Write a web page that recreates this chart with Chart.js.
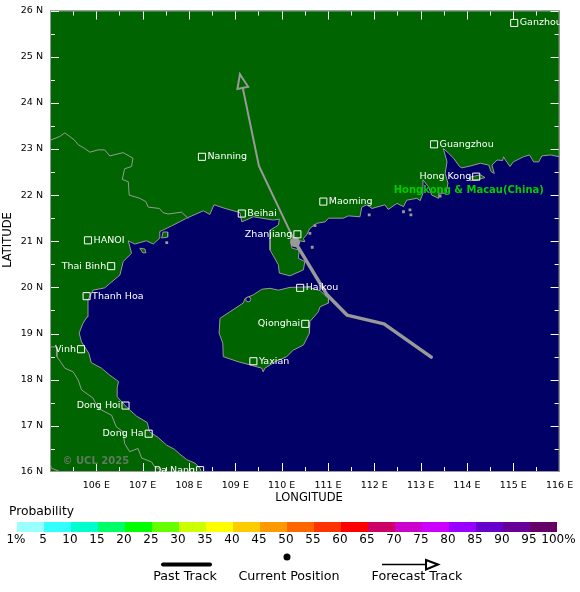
<!DOCTYPE html>
<html>
<head>
<meta charset="utf-8">
<style>html,body{margin:0;padding:0;background:#fff}canvas{display:block}</style>
<script src="https://cdn.jsdelivr.net/npm/chart.js@4"></script>
</head>
<body>
<canvas id="c" width="580" height="592"></canvas>
<script>
// ---------- data (degrees) ----------
const coastLon=[108.27,108.24,108.13,107.95,107.80,107.69,107.52,107.33,107.15,107.10,106.87,106.66,106.45,106.45,106.48,106.29,106.11,105.89,105.84,105.68,105.63,105.71,105.80,105.82,105.82,105.93,106.18,106.51,106.58,106.76,106.69,106.83,107.08,107.23,107.36,107.37,107.62,107.95,108.31,108.45,108.54,108.78,109.10,109.14,109.39,109.82,109.95,109.93,109.75,109.75,109.93,109.95,110.18,110.47,110.50,110.36,110.38,110.22,110.20,110.50,110.47,110.54,110.61,110.76,110.94,111.01,111.33,111.44,111.69,111.73,111.84,111.95,112.23,112.30,112.49,112.63,112.70,112.92,112.99,113.05,113.05,113.17,113.24,113.39,113.39,113.55,113.59,113.53,113.57,113.49,113.60,113.71,113.84,113.89,114.07,114.29,114.47,114.52,114.59,114.54,114.65,114.77,114.79,114.83,114.93,115.00,115.22,115.35,115.44,115.55,115.62,115.80,116.00,116.00];
const coastLat=[15.99,16.08,16.19,16.27,16.39,16.49,16.58,16.75,16.87,17.07,17.21,17.40,17.63,17.83,17.96,18.10,18.25,18.37,18.57,18.82,19.01,19.22,19.36,19.58,19.73,19.94,19.99,20.27,20.56,20.74,21.01,20.94,21.01,20.94,21.06,21.21,21.33,21.50,21.66,21.58,21.79,21.71,21.62,21.42,21.53,21.46,21.48,21.35,21.24,20.81,20.49,20.31,20.25,20.38,20.56,20.63,20.81,20.85,21.04,20.99,21.06,21.14,21.28,21.39,21.42,21.50,21.50,21.55,21.53,21.74,21.79,21.71,21.79,21.69,21.82,21.75,21.89,21.93,21.88,22.04,22.33,22.18,22.00,21.93,22.04,22.04,22.26,22.47,22.72,23.01,22.91,22.80,22.62,22.59,22.63,22.69,22.65,22.51,22.47,22.65,22.76,22.75,22.83,22.76,22.62,22.72,22.83,22.87,22.72,22.72,22.85,22.87,22.83,15.99];
const hainanLon=[109.57,109.75,109.93,110.18,110.54,110.83,111.01,111.01,110.83,110.79,110.61,110.60,110.47,110.25,110.11,109.86,109.64,109.60,109.57,109.32,109.06,108.74,108.73,108.65,108.67,108.88,109.17,109.21,109.39,109.57];
const hainanLat=[19.96,19.98,19.94,20.00,20.01,19.93,19.76,19.66,19.58,19.47,19.26,19.01,18.75,18.64,18.50,18.39,18.25,18.17,18.25,18.32,18.39,18.50,18.79,19.01,19.33,19.47,19.66,19.76,19.84,19.96];
const catBaLon=[107.44,107.54,107.54,107.41,107.44];
const catBaLat=[21.20,21.20,21.09,21.07,21.20];
const isleLon=[106.94,107.05,107.07,107.00,106.94];
const isleLat=[20.85,20.83,20.75,20.75,20.85];
const hkLon=[114.07,114.29,114.39,114.25,114.07,114.07];
const hkLat=[22.39,22.44,22.38,22.34,22.31,22.39];
const isletLon=[111.89,112.63,112.77,112.79,110.72,110.61,110.66,113.42,107.52];
const isletLat=[21.57,21.64,21.68,21.57,21.34,21.17,20.87,21.98,20.97];
const lakeLon=[109.28];
const lakeLat=[19.74];
const border1Lon=[105.01,105.21,105.32,105.53,105.61,105.75,105.86,106.04,106.18,106.29,106.58,106.79,106.76,106.61,106.56,106.69,106.71,106.94,107.07,107.12,107.36,107.44,107.55,107.84,107.98];
const border1Lat=[23.19,23.27,23.35,23.19,23.09,23.01,22.93,22.98,22.98,22.85,22.92,22.80,22.62,22.57,22.34,22.29,22.00,21.93,21.86,21.74,21.71,21.62,21.59,21.63,21.50];
const border2Lon=[105.01,105.14,105.15,105.32,105.50,105.61,105.68,105.93,106.04,106.33,106.43,106.58,106.61,106.72,106.90,106.98,107.19,107.26,107.50];
const border2Lat=[18.71,18.71,18.50,18.25,18.17,17.99,17.78,17.60,17.38,17.23,16.98,16.87,16.62,16.44,16.51,16.30,16.22,16.11,16.00];
const border3Lon=[105.00,105.03,105.17,105.21];
const border3Lat=[16.19,16.08,16.03,16.00];
const pastLon=[113.23,112.21,111.41,110.98,110.29];
const pastLat=[18.49,19.21,19.40,19.84,20.98];
const forecastLon=[110.29,109.51,109.10];
const forecastLat=[20.98,22.63,24.62];
const cityNames=['Ganzhou','Guangzhou','Nanning','Beihai','Maoming','Zhanjiang','HANOI','Thai Binh','Thanh Hoa','Vinh','Dong Hoi','Dong Ha','Da Nang','Haikou','Qionghai','Yaxian','Hong Kong'];
const cityLon=[115.02,113.29,108.28,109.14,110.90,110.34,105.82,106.32,105.79,105.67,106.63,107.13,108.24,110.40,110.51,109.39,114.20];
const cityLat=[25.73,23.10,22.83,21.60,21.86,21.15,21.02,20.46,19.81,18.66,17.44,16.83,16.04,19.99,19.21,18.40,22.40];
const cityLabelSide=['r','r','r','r','r','l','r','l','r','l','l','l','l','r','l','r','l'];
const lonTickLabels=['106 E','107 E','108 E','109 E','110 E','111 E','112 E','113 E','114 E','115 E','116 E'];
const latTickLabels=['16 N','17 N','18 N','19 N','20 N','21 N','22 N','23 N','24 N','25 N','26 N'];
const probLabels=['1%','5','10','15','20','25','30','35','40','45','50','55','60','65','70','75','80','85','90','95','100%'];
const probColors=['#99FFFF','#33FFFF','#00FFCC','#00FF66','#00FF00','#66FF00','#CCFF00','#FFFF00','#FFCC00','#FF9900','#FF6600','#FF3300','#FF0000','#CC0066','#CC00CC','#CC00FF','#9900FF','#6600CC','#660099','#660066'];
const regionName='Hongkong & Macau(China)';
const regionLon=[114.04];
const regionLat=[22.10];
const copyrightText='© UCL 2025';
const legendTexts=['Probability','Past Track','Current Position','Forecast Track'];
const axisTitles=['LONGITUDE','LATITUDE'];

// ---------- styling ----------
const LAND='#006400',SEA='#000066',GREY='#999999',FONT='"DejaVu Sans"';
const pts=(xs,ys)=>xs.map((x,i)=>({x,y:ys[i]}));
const shape=(xs,ys,fillCol,order)=>({data:pts(xs,ys),showLine:true,fill:'shape',backgroundColor:fillCol,borderColor:GREY,borderWidth:1,pointRadius:0,order,tension:0});
const line=(xs,ys,w,order)=>({data:pts(xs,ys),showLine:true,fill:false,borderColor:GREY,borderWidth:w,pointRadius:0,order,tension:0,borderCapStyle:'round',borderJoinStyle:'round'});

const mapPainter={
  id:'mapPainter',
  beforeDatasetsDraw(chart){
    const {ctx,chartArea:a}=chart;
    ctx.save();ctx.fillStyle=LAND;ctx.fillRect(a.left,a.top,a.right-a.left,a.bottom-a.top);ctx.restore();
  },
  afterDatasetsDraw(chart){
    const {ctx,chartArea:a,scales:{x,y}}=chart;
    ctx.save();
    // arrow head on the forecast track
    const n=forecastLon.length;
    const tx=x.getPixelForValue(forecastLon[n-1]),ty=y.getPixelForValue(forecastLat[n-1]);
    const px=x.getPixelForValue(forecastLon[n-2]),py=y.getPixelForValue(forecastLat[n-2]);
    const L=Math.hypot(tx-px,ty-py),ux=(tx-px)/L,uy=(ty-py)/L;
    ctx.beginPath();
    ctx.moveTo(tx,ty);
    ctx.lineTo(tx-14*ux-5.5*uy,ty-14*uy+5.5*ux);
    ctx.lineTo(tx-14*ux+5.5*uy,ty-14*uy-5.5*ux);
    ctx.closePath();
    ctx.fillStyle=LAND;ctx.fill();ctx.strokeStyle=GREY;ctx.lineWidth=2;ctx.stroke();
    // frame
    ctx.strokeStyle=GREY;ctx.lineWidth=1;
    ctx.strokeRect(a.left+.5,a.top+.5,a.right-a.left-1,a.bottom-a.top-1);
    // inward tick marks
    ctx.strokeStyle='#ffffff';ctx.lineWidth=1;ctx.beginPath();
    x.ticks.forEach(t=>{
      const p=Math.round(x.getPixelForValue(t.value))+.5,l=Number.isInteger(t.value)?8:4;
      if(t.value===x.min||t.value===x.max)return;
      ctx.moveTo(p,a.bottom-1);ctx.lineTo(p,a.bottom-1-l);
      ctx.moveTo(p,a.top+1);ctx.lineTo(p,a.top+1+l);
    });
    y.ticks.forEach(t=>{
      const p=Math.round(y.getPixelForValue(t.value))+.5,l=Number.isInteger(t.value)?8:4;
      ctx.moveTo(a.left+1,p);ctx.lineTo(a.left+1+l,p);
      ctx.moveTo(a.right-1,p);ctx.lineTo(a.right-1-l,p);
    });
    ctx.stroke();
    // city names
    ctx.font='9.5px '+FONT;ctx.fillStyle='#ffffff';ctx.textBaseline='middle';
    cityNames.forEach((nm,i)=>{
      const cx=x.getPixelForValue(cityLon[i]),cy=y.getPixelForValue(cityLat[i]);
      ctx.textAlign=cityLabelSide[i]==='r'?'left':'right';
      ctx.fillText(nm,cx+(cityLabelSide[i]==='r'?5.5:-5),cy);
    });
    // region caption and copyright
    ctx.font='bold 10px '+FONT;ctx.fillStyle='#00CC00';ctx.textAlign='center';
    ctx.fillText(regionName,x.getPixelForValue(regionLon[0]),y.getPixelForValue(regionLat[0]));
    ctx.font='bold 10px '+FONT;ctx.fillStyle='#5f7a5f';ctx.textAlign='left';
    ctx.fillText(copyrightText,a.left+12.5,a.bottom-11);
    ctx.restore();
  },
  afterDraw(chart){
    const {ctx}=chart;
    ctx.save();
    ctx.fillStyle='#000';ctx.textBaseline='middle';ctx.font='11.5px '+FONT;
    // axis titles
    ctx.textAlign='center';
    ctx.fillText(axisTitles[0],309,498);
    ctx.save();ctx.translate(8,240);ctx.rotate(-Math.PI/2);ctx.fillText(axisTitles[1],0,0);ctx.restore();
    // probability bar
    ctx.font='12.3px '+FONT;
    ctx.textAlign='left';ctx.fillText(legendTexts[0],9,512);
    ctx.font='12px '+FONT;
    const bx=17,bw=27,by=522,bh=10;
    probColors.forEach((c,i)=>{ctx.fillStyle=c;ctx.fillRect(bx+i*bw,by,bw,bh);});
    ctx.fillStyle='#000';ctx.textAlign='center';
    probLabels.forEach((t,i)=>ctx.fillText(t,i===20?bx+i*bw+1.5:bx+i*bw-1,540));
    // track legend
    ctx.strokeStyle='#000';ctx.lineCap='round';ctx.lineWidth=4;
    ctx.beginPath();ctx.moveTo(163,564.5);ctx.lineTo(210,564.5);ctx.stroke();
    ctx.beginPath();ctx.arc(287,557,3.5,0,Math.PI*2);ctx.fill();
    ctx.lineWidth=1.5;ctx.lineCap='butt';
    ctx.beginPath();ctx.moveTo(382,564.5);ctx.lineTo(426,564.5);ctx.stroke();
    ctx.lineWidth=2;
    ctx.beginPath();ctx.moveTo(438,564.5);ctx.lineTo(426,560);ctx.lineTo(426,569.5);ctx.closePath();ctx.stroke();
    ctx.font='12.7px '+FONT;
    ctx.fillText(legendTexts[1],185,577);
    ctx.fillText(legendTexts[2],289,577);
    ctx.fillText(legendTexts[3],417,577);
    ctx.restore();
  }
};

new Chart(document.getElementById('c'),{
  type:'scatter',
  plugins:[mapPainter],
  data:{datasets:[
    shape(coastLon,coastLat,SEA,20),
    shape(hainanLon,hainanLat,LAND,19),
    shape(catBaLon,catBaLat,LAND,18),
    shape(isleLon,isleLat,LAND,17),
    shape(hkLon,hkLat,LAND,16),
    line(border1Lon,border1Lat,1,15),
    line(border2Lon,border2Lat,1,14),
    line(border3Lon,border3Lat,1,13),
    {data:pts(isletLon,isletLat),pointStyle:'rect',pointRadius:2,pointBackgroundColor:GREY,pointBorderWidth:0,order:12},
    {data:pts(lakeLon,lakeLat),pointStyle:'circle',pointRadius:2.5,pointBackgroundColor:SEA,pointBorderColor:GREY,pointBorderWidth:1,order:11},
    line(forecastLon,forecastLat,2,10),
    line(pastLon,pastLat,3.5,9),
    {data:pts(pastLon.slice(-1),pastLat.slice(-1)),pointStyle:'circle',pointRadius:5,pointBackgroundColor:GREY,pointBorderWidth:0,order:8},
    {data:pts(cityLon,cityLat),pointStyle:'rect',pointRadius:5,pointBackgroundColor:'rgba(0,0,0,0)',pointBorderColor:'#ffffff',pointBorderWidth:1,order:7}
  ]},
  options:{
    responsive:false,animation:false,devicePixelRatio:1,
    events:[],
    layout:{padding:{left:0,top:10.5,right:20.4,bottom:87}},
    plugins:{legend:{display:false},tooltip:{enabled:false},title:{display:false}},
    scales:{
      x:{type:'linear',min:105,max:116,
        afterFit:s=>{s.height=33;s.paddingLeft=0;s.paddingRight=0;},
        border:{display:false},
        grid:{display:false,drawTicks:false},
        title:{display:false},
        ticks:{stepSize:.5,autoSkip:false,maxRotation:0,minRotation:0,padding:8,color:'#000',font:{family:'DejaVu Sans',size:9.5},
          callback:v=>(Number.isInteger(v)&&v>105)?lonTickLabels[v-106]:''}},
      y:{type:'linear',min:16,max:26,
        afterFit:s=>{s.width=50;s.paddingTop=0;s.paddingBottom=0;},
        border:{display:false},
        grid:{display:false,drawTicks:false},
        title:{display:false},
        ticks:{stepSize:.5,autoSkip:false,padding:7,color:'#000',font:{family:'DejaVu Sans',size:9.5},
          callback:v=>Number.isInteger(v)?latTickLabels[v-16]:''}}
    }
  }
});
</script>
</body>
</html>
